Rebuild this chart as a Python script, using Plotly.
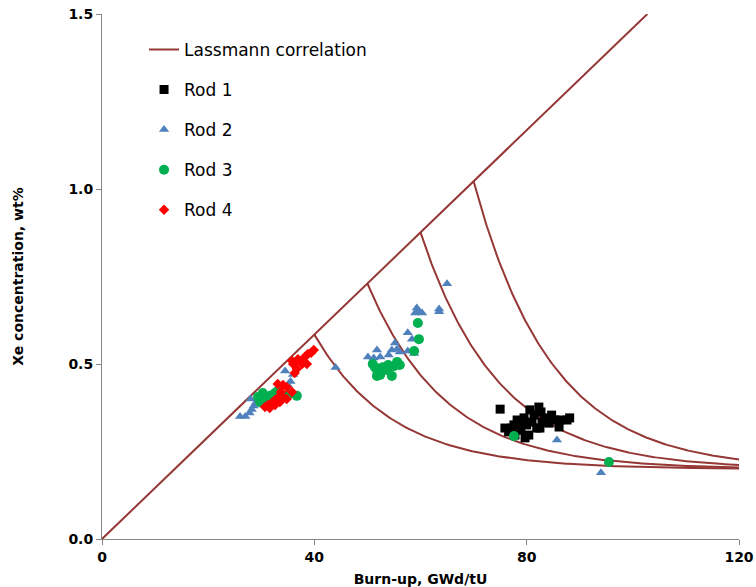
import numpy as np
import plotly.graph_objects as go

# Lassmann correlation parameters
slope_C = 0.0146          # wt% per GWd/tU
asym_Xe = 0.2             # asymptotic Xe, wt%
decay_D = 0.068           # 1/(GWd/tU)
thresholds = [40, 50, 60, 70]
bu_max = 120

rod1_bu = [75.0, 75.9, 76.6, 77.2, 78.2, 78.7, 79.5, 80.0, 80.4, 79.7, 80.6, 81.4, 82.3, 82.7,
           82.9, 82.5, 83.4, 84.2, 84.7, 85.3, 86.3, 87.6, 88.1, 81.9, 81.0, 78.9, 77.8, 77.6, 86.1]
rod1_xe = [0.371, 0.317, 0.306, 0.317, 0.340, 0.331, 0.346, 0.326, 0.297, 0.289, 0.369, 0.354, 0.377, 0.363,
           0.334, 0.317, 0.346, 0.331, 0.354, 0.340, 0.340, 0.340, 0.346, 0.317, 0.334, 0.311, 0.297, 0.326, 0.320]

rod2_bu = [26.0, 27.0, 27.8, 28.2, 28.6, 29.0, 28.0, 30.5, 32.0, 33.5, 35.0, 35.5, 36.0, 34.5, 44.0,
           65.0, 63.5, 63.5, 59.3, 59.7, 60.3, 59.0, 57.6, 58.4, 55.2, 58.6, 57.6, 55.6, 54.6, 56.1,
           51.8, 50.1, 54.0, 52.4, 51.2, 58.8, 94.0, 85.7]
rod2_xe = [0.350, 0.350, 0.360, 0.370, 0.380, 0.390, 0.400, 0.400, 0.410, 0.420, 0.440, 0.450, 0.470, 0.480, 0.490,
           0.729, 0.657, 0.649, 0.660, 0.651, 0.646, 0.646, 0.589, 0.571, 0.560, 0.537, 0.537, 0.543, 0.540, 0.534,
           0.540, 0.520, 0.526, 0.520, 0.517, 0.530, 0.189, 0.283]

rod3_bu = [29.4, 30.3, 31.1, 32.6, 33.1, 34.1, 35.0, 36.7, 29.8, 31.8,
           59.5, 59.7, 58.8, 51.4, 51.8, 51.8, 52.9, 53.9, 54.6, 55.6, 56.1, 52.4, 53.7, 55.0, 51.0,
           77.6, 95.5]
rod3_xe = [0.406, 0.417, 0.403, 0.417, 0.423, 0.406, 0.411, 0.409, 0.391, 0.410,
           0.617, 0.571, 0.537, 0.491, 0.483, 0.466, 0.491, 0.497, 0.466, 0.506, 0.497, 0.469, 0.483, 0.494, 0.500,
           0.294, 0.220]

rod4_bu = [39.9, 39.4, 38.8, 38.2, 37.9, 37.7, 38.6, 36.9, 35.8, 36.0, 36.7, 36.3, 33.1, 34.1, 34.8,
           33.7, 35.8, 34.1, 33.1, 32.6, 32.0, 32.6, 31.3, 30.7, 31.6, 33.5, 34.8]
rod4_xe = [0.540, 0.532, 0.529, 0.520, 0.509, 0.500, 0.500, 0.514, 0.509, 0.500, 0.486, 0.474, 0.443, 0.440, 0.434,
           0.420, 0.420, 0.406, 0.403, 0.397, 0.389, 0.383, 0.383, 0.377, 0.374, 0.391, 0.400]

x_ticks = [0, 40, 80, 120]
y_ticks = [0.0, 0.5, 1.0, 1.5]

# Build Lassmann correlation line (diagonal + decay branches)
lx, ly = [], []
diag_end = 1.5 / slope_C
lx += [0, diag_end, None]
ly += [0, 1.5, None]
for b0 in thresholds:
    bb = np.linspace(b0, bu_max, 200)
    c0 = slope_C * b0
    cc = asym_Xe + (c0 - asym_Xe) * np.exp(-decay_D * (bb - b0))
    lx += list(bb) + [None]
    ly += list(cc) + [None]

fig = go.Figure()
fig.add_trace(go.Scatter(x=lx, y=ly, mode="lines", name="Lassmann correlation",
                         line=dict(color="#953735", width=2), legendgroup="g0", connectgaps=False))
fig.add_trace(go.Scatter(x=rod1_bu, y=rod1_xe, mode="markers", name="Rod 1", legendgroup="g1",
                         marker=dict(symbol="square", color="black", size=9)))
fig.add_trace(go.Scatter(x=rod2_bu, y=rod2_xe, mode="markers", name="Rod 2", legendgroup="g2",
                         marker=dict(symbol="triangle-up", color="#4F81BD", size=9)))
fig.add_trace(go.Scatter(x=rod3_bu, y=rod3_xe, mode="markers", name="Rod 3", legendgroup="g3",
                         marker=dict(symbol="circle", color="#00B050", size=10)))
fig.add_trace(go.Scatter(x=rod4_bu, y=rod4_xe, mode="markers", name="Rod 4", legendgroup="g4",
                         marker=dict(symbol="diamond", color="#FF0000", size=8)))

axis_common = dict(showgrid=False, zeroline=False, showline=True, linecolor="#868686", linewidth=1,
                   ticks="outside", tickcolor="#868686", ticklen=5, automargin=False,
                   tickfont=dict(family="DejaVu Sans", size=14, color="black", weight="bold"))

fig.update_layout(
    width=756, height=587,
    margin=dict(l=102, r=17, t=14, b=48),
    plot_bgcolor="white", paper_bgcolor="white",
    font=dict(family="DejaVu Sans", color="black"),
    xaxis=dict(range=[0, 120], tickvals=x_ticks, tickformat="d",
               title=dict(text="<b>Burn-up, GWd/tU</b>", font=dict(size=14), standoff=14),
               **axis_common),
    yaxis=dict(range=[0, 1.5], tickvals=y_ticks, tickformat=".1f",
               title=dict(text="<b>Xe concentration, wt%</b>", font=dict(size=14), standoff=41),
               **axis_common),
    legend=dict(x=0.066, y=0.966, xanchor="left", yanchor="top", bgcolor="rgba(0,0,0,0)",
                font=dict(size=17, family="DejaVu Sans"), tracegroupgap=15, itemwidth=30),
    showlegend=True,
)

fig.write_html("out.html")
